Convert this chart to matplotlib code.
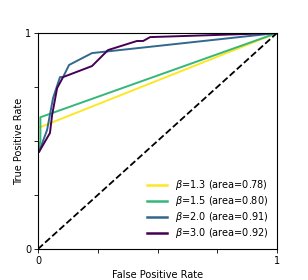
import matplotlib
matplotlib.use('agg')
import matplotlib.pyplot as plt

# ROC curves
betas = ['1.3', '1.5', '2.0', '3.0']
areas = ['0.78', '0.80', '0.91', '0.92']
colors = ['#fde725', '#35b779', '#31688e', '#440154']

fpr_13 = [0.0, 0.0, 1.0]
tpr_13 = [0.0, 0.56, 1.0]

fpr_15 = [0.0, 0.0, 0.01, 0.01, 1.0]
tpr_15 = [0.0, 0.45, 0.5, 0.61, 1.0]

fpr_20 = [0.0, 0.0, 0.004, 0.038, 0.063, 0.092, 0.105, 0.13, 0.226, 1.0]
tpr_20 = [0.0, 0.449, 0.449, 0.551, 0.699, 0.796, 0.796, 0.852, 0.907, 1.0]

fpr_30 = [0.0, 0.0, 0.004, 0.05, 0.059, 0.08, 0.105, 0.226, 0.293, 0.414, 0.44, 0.469, 1.0]
tpr_30 = [0.0, 0.449, 0.449, 0.537, 0.62, 0.745, 0.796, 0.847, 0.921, 0.963, 0.963, 0.981, 1.0]

fprs = [fpr_13, fpr_15, fpr_20, fpr_30]
tprs = [tpr_13, tpr_15, tpr_20, tpr_30]

fig = plt.figure(figsize=(3.08, 2.8), dpi=100)
ax = fig.add_axes([38 / 308, 1 - 249 / 280, 239 / 308, 216 / 280])

for fpr, tpr, b, a, c in zip(fprs, tprs, betas, areas, colors):
    ax.plot(fpr, tpr, color=c, lw=1.4, label='$\\beta$=%s (area=%s)' % (b, a))
ax.plot([0, 1], [0, 1], 'k--', lw=1.3)

ax.set_xlim(0, 1)
ax.set_ylim(0, 1)
ax.set_xticks([0, 0.25, 0.5, 0.75, 1])
ax.set_xticklabels(['0', '', '', '', '1'])
ax.set_yticks([0, 0.25, 0.5, 0.75, 1])
ax.set_yticklabels(['0', '', '', '', '1'])
ax.tick_params(labelsize=7, length=3, width=0.6, pad=2)
for s in ax.spines.values():
    s.set_linewidth(0.8)
ax.set_xlabel('False Positive Rate', fontsize=7, labelpad=3)
ax.set_ylabel('True Positive Rate', fontsize=7, labelpad=1)
leg = ax.legend(loc='lower right', fontsize=7, frameon=False, handlelength=2.0,
                labelspacing=0.2, borderaxespad=0.5, handletextpad=0.8)
for h in leg.get_lines():
    h.set_linewidth(1.8)

fig.savefig('out.png', dpi=100)
